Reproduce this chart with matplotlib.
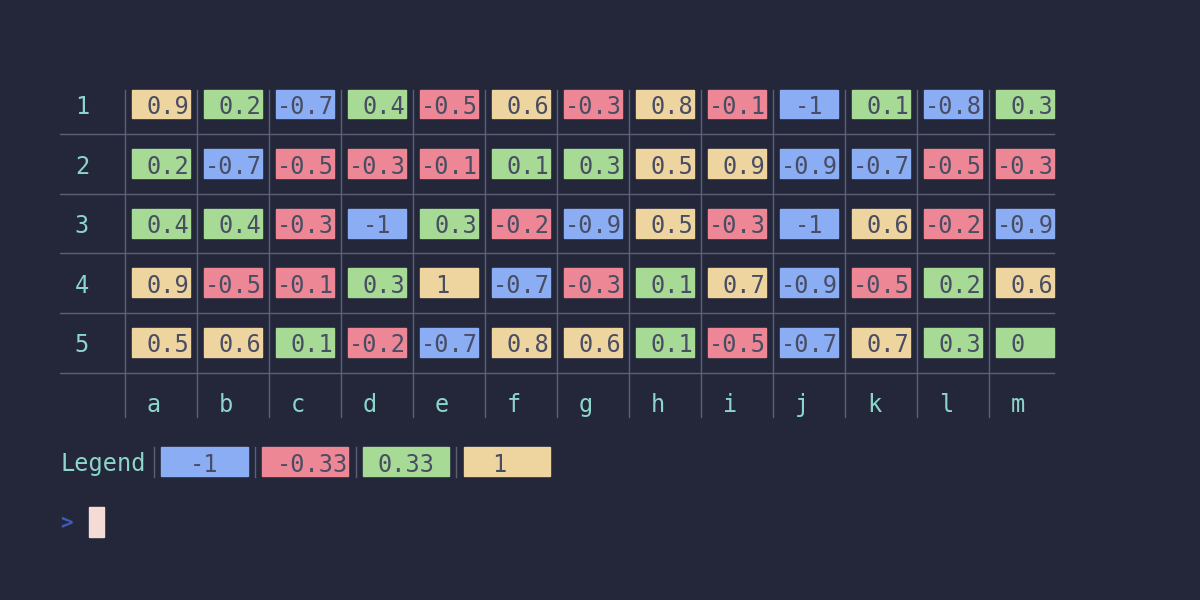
import numpy as np
import matplotlib.pyplot as plt
from matplotlib.patches import Rectangle

rows = ["1", "2", "3", "4", "5"]
cols = list("abcdefghijklm")
values = [
    [0.9, 0.2, -0.7, 0.4, -0.5, 0.6, -0.3, 0.8, -0.1, -1, 0.1, -0.8, 0.3],
    [0.2, -0.7, -0.5, -0.3, -0.1, 0.1, 0.3, 0.5, 0.9, -0.9, -0.7, -0.5, -0.3],
    [0.4, 0.4, -0.3, -1, 0.3, -0.2, -0.9, 0.5, -0.3, -1, 0.6, -0.2, -0.9],
    [0.9, -0.5, -0.1, 0.3, 1, -0.7, -0.3, 0.1, 0.7, -0.9, -0.5, 0.2, 0.6],
    [0.5, 0.6, 0.1, -0.2, -0.7, 0.8, 0.6, 0.1, -0.5, -0.7, 0.7, 0.3, 0],
]
legend_labels = ["-1", "-0.33", "0.33", "1"]
bins = [-0.5, 0, 0.5]

# catppuccin macchiato-ish colours
bg = "#24273a"
palette = ["#8aadf4", "#ed8796", "#a6da95", "#eed49f"]
label_col = "#8bd5ca"
cell_txt = "#494d64"
grid_col = "#5b6078"

cw = 14.4   # char width px
lh = 29.8   # line height px
x0 = 60.4
y0 = 89.5
fs = 17
font = "DejaVu Sans Mono"

fig = plt.figure(figsize=(12, 6), dpi=100)
fig.patch.set_facecolor(bg)
ax = fig.add_axes([0, 0, 1, 1])
ax.set_xlim(0, 1200)
ax.set_ylim(600, 0)
ax.axis("off")


def cx(c):
    return x0 + c * cw


def ly(l):
    return y0 + l * lh


def put(col, line, s, color, **kw):
    ax.text(cx(col), ly(line) + lh / 2, s, color=color, fontsize=kw.pop("size", fs), family=font,
            ha="left", va="center_baseline", **kw)


ncol = len(cols)
nrow = len(rows)
vals = np.array(values)
idx = np.digitize(vals, bins)
right = cx(4 + ncol * 5)

for i, r in enumerate(rows):
    line = 2 * i
    put(1, line, r, label_col)
    # separator line below each row
    ax.plot([x0, right], [ly(line + 1) + lh / 2] * 2, color=grid_col, lw=1)
    for j in range(ncol):
        c = 5 + j * 5
        ax.add_patch(Rectangle((cx(c), ly(line)), 4 * cw, lh - 1, color=palette[idx[i, j]]))
        s = f"{vals[i, j]:g}"
        put(c + (0 if len(s) >= 4 else 1), line, s, cell_txt)

lab_line = 2 * nrow
for j, name in enumerate(cols):
    c = 5 + j * 5
    put(c + 1, lab_line, name, label_col)
    ax.plot([cx(c - 0.5)] * 2, [ly(0), ly(lab_line + 1)], color=grid_col, lw=1)

# legend
leg_line = lab_line + 2
put(0, leg_line, "Legend", label_col)
pads = [2, 1, 1, 2]
for k, lab in enumerate(legend_labels):
    c = 7 + k * 7
    ax.plot([cx(c - 0.5)] * 2, [ly(leg_line), ly(leg_line + 1)], color=grid_col, lw=1)
    box = Rectangle((cx(c), ly(leg_line)), 6 * cw, lh - 1, color=palette[k])
    ax.add_patch(box)
    t = ax.text(cx(c + pads[k]), ly(leg_line) + lh / 2, lab, color=cell_txt, fontsize=fs,
                family=font, ha="left", va="center_baseline")
    t.set_clip_path(box)

# prompt
pr_line = leg_line + 2
put(0, pr_line, ">", "#3f5cb8", size=15, fontweight="bold")
ax.add_patch(Rectangle((cx(2), ly(pr_line)), cw, lh, color="#f4dbd6"))

fig.savefig("out.png", dpi=100, facecolor=bg)
